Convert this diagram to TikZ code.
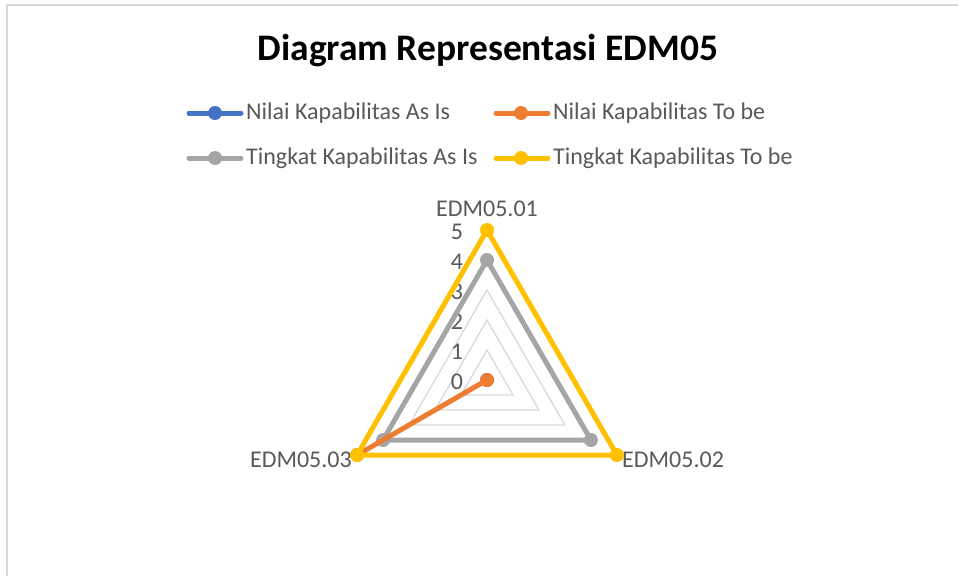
\documentclass[tikz,border=0pt]{standalone}
\usepackage{fontspec}
\setmainfont{Carlito}
\usetikzlibrary{calc}
\definecolor{sblue}{HTML}{4472C4}
\definecolor{sorange}{HTML}{ED7D31}
\definecolor{sgray}{HTML}{A5A5A5}
\definecolor{syellow}{HTML}{FFC000}
\definecolor{gridc}{HTML}{D9D9D9}
\definecolor{txt}{HTML}{595959}
\tikzset{
  serline/.style={line width=5pt, line join=round, line cap=round},
  mk/.style={circle, inner sep=0pt, minimum size=14pt, fill=#1},
  lbl/.style={text=txt, font=\fontsize{24}{27}\selectfont, inner sep=0pt},
  gridline/.style={draw=gridc, line width=1.3pt},
}
\begin{document}
\begin{tikzpicture}[x=1pt,y=-1pt]
\useasboundingbox (0,0) rectangle (958,576);
\fill[white] (0,0) rectangle (958,576);
% chart border
\draw[gridc, line width=1.5pt] (7,576) -- (7,5) -- (958,5);
% title
\node[font=\fontsize{37.5}{40}\selectfont\bfseries, inner sep=0pt] (title) at (488,51) {Diagram Representasi EDM05};
% legend
\coordinate (l1a) at (189,113); \coordinate (l1b) at (241,113);
\draw[sblue, serline] (l1a) -- (l1b);
\node[mk=sblue] (lm1) at (215,113) {};
\node[lbl, anchor=west] (lt1) at (246,113) {Nilai Kapabilitas As Is};
\coordinate (l2a) at (496,113); \coordinate (l2b) at (548,113);
\draw[sorange, serline] (l2a) -- (l2b);
\node[mk=sorange] (lm2) at (521,113) {};
\node[lbl, anchor=west] (lt2) at (553,113) {Nilai Kapabilitas To be};
\coordinate (l3a) at (189,158); \coordinate (l3b) at (241,158);
\draw[sgray, serline] (l3a) -- (l3b);
\node[mk=sgray] (lm3) at (215,158) {};
\node[lbl, anchor=west] (lt3) at (246,158) {Tingkat Kapabilitas As Is};
\coordinate (l4a) at (496,158); \coordinate (l4b) at (548,158);
\draw[syellow, serline] (l4a) -- (l4b);
\node[mk=syellow] (lm4) at (521,158) {};
\node[lbl, anchor=west] (lt4) at (553,158) {Tingkat Kapabilitas To be};
% radar geometry: center (487,380), 30pt per unit (y axis points down)
\coordinate (c) at (487,380);
\foreach \k in {1,2,3,4,5} {
  \draw[gridline] ($(c)+(-90:30*\k)$) -- ($(c)+(30:30*\k)$) -- ($(c)+(150:30*\k)$) -- cycle;
}
% tick labels
\foreach \k in {0,...,5} {
  \node[lbl] (t\k) at (457,382-30*\k) {\k};
}
% category labels
\node[lbl, anchor=base] (cat1) at (487,216) {EDM05.01};
\node[lbl, anchor=west] (cat2) at (622,460) {EDM05.02};
\node[lbl, anchor=east] (cat3) at (352,460) {EDM05.03};
% series: Tingkat As Is (4,4,4)
\coordinate (g1) at ($(c)+(-90:120)$);
\coordinate (g2) at ($(c)+(30:120)$);
\coordinate (g3) at ($(c)+(150:120)$);
\draw[sgray, serline] (g1) -- (g2) -- (g3) -- cycle;
\foreach \p in {g1,g2,g3} \node[mk=sgray] at (\p) {};
% series: Nilai As Is (0,0,0)
\node[mk=sblue] (b0) at (c) {};
% series: Nilai To be (0,0,5)
\coordinate (o3) at ($(c)+(150:150)$);
\draw[sorange, serline] (c) -- (o3);
\node[mk=sorange] (o0) at (c) {};
\node[mk=sorange] (o3m) at (o3) {};
% series: Tingkat To be (5,5,5)
\coordinate (y1) at ($(c)+(-90:150)$);
\coordinate (y2) at ($(c)+(30:150)$);
\coordinate (y3) at ($(c)+(150:150)$);
\draw[syellow, serline] (y1) -- (y2) -- (y3) -- cycle;
\foreach \p in {y1,y2,y3} \node[mk=syellow] at (\p) {};
\end{tikzpicture}
\end{document}
